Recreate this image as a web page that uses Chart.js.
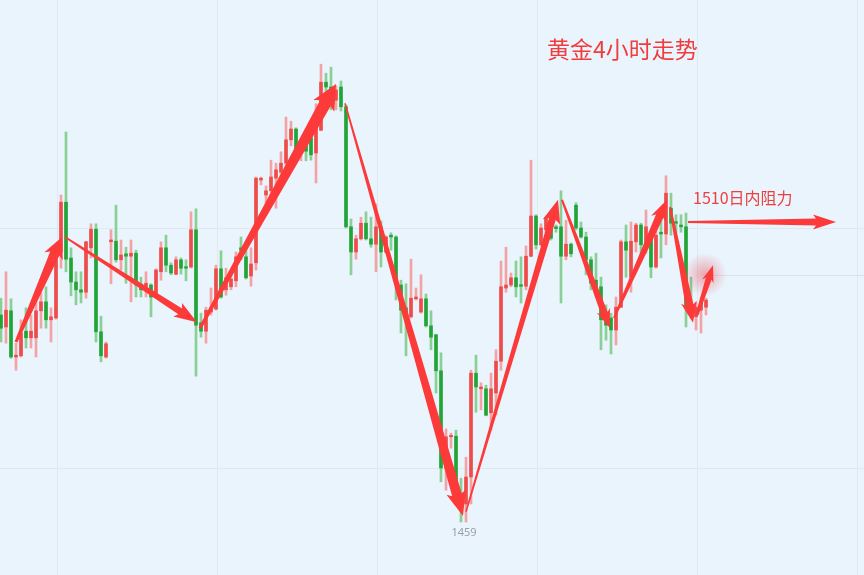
<!DOCTYPE html>
<html>
<head>
    <title>黄金4小时走势</title>
    <script src="https://cdn.jsdelivr.net/npm/chart.js"></script>
    <style>
        body { margin: 0; background: #eaf4fd; }
        #wrap { width: 864px; height: 575px; }
    </style>
</head>
<body>
    <div id="wrap"><canvas id="kChart" width="864" height="575"></canvas></div>

    <script>
    // 4h gold candles
    const opens = [1493.5,1491.5,1494.2,1486.5,1486.7,1490.8,1489.7,1489.7,1494.2,1495.7,
        1492.7,1493,1504,1512.3,1503,1499,1497.7,1497.3,1504.7,1507.8,
        1490.7,1486.5,1505.7,1505.8,1502.7,1503.7,1503.3,1503.8,1498.5,1498.2,
        1498.5,1496.8,1500.7,1504.7,1501.8,1500.3,1502.7,1501.5,1501.5,1507.7,
        1492.2,1490.8,1494,1494.5,1501.2,1497.7,1498.2,1499.2,1504.7,1503.2,
        1500,1502.2,1516,1513.5,1514.2,1516.3,1517.3,1518.8,1522.7,1524.5,
        1520.7,1522.7,1523,1520.5,1524.3,1532.3,1531.5,1529.3,1531.5,1528.2,
        1508.2,1504,1506.2,1508.8,1506.2,1505.3,1508.2,1504,1506.8,1506.5,
        1498.5,1494.7,1493.2,1496.2,1494,1496.2,1491.7,1490.2,1484.2,1468,
        1473.2,1473.3,1463.8,1462,1466.5,1483.8,1481.2,1481.2,1477.2,1480.5,
        1485.8,1498,1498.5,1499.7,1498.5,1498.3,1503.3,1510,1505.2,1507.7,
        1508.2,1508.2,1508.2,1503.3,1505.3,1511.8,1508,1506.5,1502.7,1499.3,
        1498.2,1493,1493,1491,1494.8,1505.7,1499.8,1505.7,1508.5,1504.8,
        1506.5,1501.5,1507.3,1507,1511.3,1509,1508.5,1508.2,1494.8,1493.2,
        1494.3,1494.8];
    const highs = [1496.3,1500.7,1496.2,1488.8,1492.7,1494.7,1493.5,1496.3,1497.2,1498.2,
        1494.7,1503,1513.5,1524,1504.7,1500.7,1500.7,1505.8,1508.7,1508.7,
        1493.3,1489,1507.7,1511.8,1506,1504.8,1506,1504.3,1499.8,1500.7,
        1498.7,1501.2,1505.7,1506.8,1502.2,1503.2,1503,1502.7,1510.7,1511.2,
        1493.8,1494.8,1498,1501.8,1504.2,1501.3,1501,1504,1506.5,1504.8,
        1504.7,1516.5,1516.5,1515,1519.3,1518.8,1520.7,1526.5,1525.8,1524.7,
        1522.3,1523.8,1524,1528.7,1535.3,1533.8,1534.8,1531.7,1532.5,1528.5,
        1509.5,1506.8,1509.8,1510.7,1509.8,1512,1509.2,1506.7,1507.2,1506.7,
        1499.3,1498.7,1502.8,1498,1500.2,1497,1494.2,1490.3,1487.2,1474.5,
        1473.8,1474.3,1466.3,1469.8,1484.3,1486.8,1482.2,1481.8,1483.8,1487.7,
        1502.5,1504.8,1500.5,1502.5,1503.2,1505,1519.3,1510.2,1508.7,1509.8,
        1509.7,1508.5,1514.2,1509.3,1505.5,1512.2,1509,1507.3,1503.2,1503.8,
        1499.8,1495.2,1493.8,1496.5,1506,1508.5,1509,1508.8,1508.8,1511,
        1507.2,1507.7,1509.8,1516.7,1513.8,1510.2,1510.2,1510.5,1499.8,1495.5,
        1496.5,1496.3];
    const lows = [1489,1488.8,1486.3,1484.3,1486.5,1488,1488,1486.5,1491.3,1491.3,
        1489,1492.8,1501.3,1500.7,1496.7,1495.2,1495.5,1496.3,1503,1489,
        1485.7,1486.3,1498.7,1502.3,1501,1498.8,1495.7,1496.5,1496.5,1496.5,
        1493.2,1496.5,1499.3,1500.7,1500.2,1500.2,1500.3,1499.2,1501.3,1483.3,
        1489.8,1488.8,1493.5,1494.3,1496.3,1496.8,1497.7,1498.2,1502.7,1499.5,
        1498.3,1501,1515.2,1512.2,1512.7,1511.3,1516,1518.2,1521.7,1520.5,
        1519.2,1519.2,1519.3,1515.5,1524.2,1530.5,1527.7,1527.7,1527.5,1508,
        1500.2,1502.8,1506,1506,1504.8,1500.7,1501.5,1503.8,1504.3,1496,
        1490.5,1486.7,1493,1496,1493.8,1491.5,1487.7,1480.5,1465.7,1464.3,
        1471.3,1461.8,1459,1459,1462,1477.3,1477.7,1476.7,1474.3,1476.8,
        1484.3,1497.3,1498.2,1496.5,1495.5,1497.7,1503.2,1504.5,1505,1507.3,
        1506,1507.3,1495.5,1502.7,1503.2,1507.7,1506.3,1500.2,1497.7,1496.5,
        1487.7,1489.3,1487,1488.5,1494.7,1499.8,1497.3,1504,1503.8,1503.8,
        1499.7,1501.3,1503,1505.2,1506.8,1507.2,1507.3,1491.5,1493,1491,
        1490.5,1493.5];
    const closes = [1491.3,1494.3,1486.5,1486.8,1490.5,1489.7,1490.8,1494.2,1495.7,1492.7,
        1493.2,1502.7,1512.3,1502.8,1499,1497.7,1497.3,1505.7,1507.8,1490.7,
        1486.7,1488.7,1506,1502.7,1503.5,1503.3,1503.8,1498.5,1497.7,1498.8,
        1496.5,1501,1504.7,1501.8,1500.5,1502.7,1501.3,1501.3,1507.7,1491.8,
        1490.8,1494.3,1494.7,1501.2,1496.5,1499.7,1499.5,1503.2,1504.3,1499.7,
        1502,1516.3,1516.3,1514.2,1516.5,1517.7,1518.8,1522.7,1524.5,1520.8,
        1521.8,1520.8,1520.2,1524.7,1532.3,1531.5,1530.5,1531,1528.2,1508.2,
        1504,1506.2,1508.8,1506.2,1505.3,1508.2,1504,1506.5,1506.5,1499.2,
        1494.3,1493.2,1496.3,1496.5,1496.2,1491.7,1489.8,1484.2,1468,1473.2,
        1473.3,1463.8,1462.3,1466.5,1483.8,1481.5,1481.5,1476.8,1481.2,1485.8,
        1498.2,1498.5,1499.7,1498.2,1498.3,1503.3,1510,1505.2,1508,1509.7,
        1506.3,1507.9,1503.3,1505.3,1503.7,1508,1506.5,1502.7,1498.8,1497.7,
        1492.7,1491.8,1491,1494.8,1505.7,1504.3,1505.8,1508.5,1505.2,1508.2,
        1501.5,1506.8,1507,1513.8,1508.8,1508.8,1508.2,1494.7,1494.3,1494.8,
        1495.7,1496];

    // grid positions (price levels / candle positions)
    const gridPrices = [1468, 1508];
    const gridBars = [11.2, 43.2, 75.2, 107.2, 139.2, 171.2];

    // hand drawn trend arrows: [candle, price] from -> to
    const arrowFrom = [[3, 1489], [12.8, 1506.5], [39.8, 1491.3], [68.8, 1528.8], [93, 1460.7],
        [112.2, 1512.7], [122.6, 1493], [133.8, 1511.5], [139.2, 1493.5], [137.4, 1509]];
    const arrowTo = [[12.2, 1506.5], [39.2, 1492.3], [67, 1532], [92.4, 1460], [111.4, 1512.7],
        [121.8, 1491.3], [133.2, 1512.7], [138.4, 1492.2], [142.4, 1501.8], [167, 1509]];

    const lowPoint = [92.6, 1459];
    const resistance = 1510;
    const lastLine = [142.4, 1500.2];

    const RED = '#ee4b4b', RED_WICK = '#f3a3a3';
    const GREEN = '#22a538', GREEN_WICK = '#88d096';
    const ARROW = '#fc3a3a';

    const isUp = opens.map((o, i) => closes[i] >= o);

    // arrow shape: tail width, shaft width at head, head width, head length
    const arrowStyle = [[3, 10, 20, 18], [1.5, 7, 16, 20], [3, 12, 24, 22], [1.5, 10, 20, 22], [1.5, 7, 18, 20],
        [2, 7, 14, 16], [2, 8, 16, 18], [2, 8, 16, 18], [3, 6, 12, 14], [2, 7, 15, 20]];

    function drawArrow(ctx, x0, y0, x1, y1, st) {
        const [w0, w1, hw, hl] = st;
        const len = Math.hypot(x1 - x0, y1 - y0);
        const dx = (x1 - x0) / len, dy = (y1 - y0) / len;
        const nx = -dy, ny = dx;
        const bx = x1 - dx * hl, by = y1 - dy * hl;
        ctx.beginPath();
        ctx.moveTo(x0 + nx * w0 / 2, y0 + ny * w0 / 2);
        ctx.lineTo(bx + nx * w1 / 2, by + ny * w1 / 2);
        ctx.lineTo(bx - dx * 3 + nx * hw / 2, by - dy * 3 + ny * hw / 2);
        ctx.lineTo(x1, y1);
        ctx.lineTo(bx - dx * 3 - nx * hw / 2, by - dy * 3 - ny * hw / 2);
        ctx.lineTo(bx - nx * w1 / 2, by - ny * w1 / 2);
        ctx.lineTo(x0 - nx * w0 / 2, y0 - ny * w0 / 2);
        ctx.closePath();
        ctx.fill();
    }

    const overlay = {
        id: 'overlay',
        beforeDraw(chart) {
            const ctx = chart.ctx;
            ctx.save();
            ctx.fillStyle = '#eaf4fd';
            ctx.fillRect(0, 0, chart.width, chart.height);
            ctx.restore();
        },
        afterDatasetsDraw(chart) {
            const ctx = chart.ctx, x = chart.scales.x, y = chart.scales.y;
            ctx.save();

            // faint last price line
            const ly = Math.round(y.getPixelForValue(lastLine[1])) + 0.5;
            ctx.strokeStyle = '#d6e2ef';
            ctx.lineWidth = 1;
            ctx.beginPath();
            ctx.moveTo(x.getPixelForValue(lastLine[0]), ly);
            ctx.lineTo(chart.width, ly);
            ctx.stroke();

            // glow on last price
            const gx = x.getPixelForValue(140.8), gy = y.getPixelForValue(lastLine[1]);
            const g = ctx.createRadialGradient(gx, gy, 0, gx, gy, 22);
            g.addColorStop(0, 'rgba(235,70,80,0.45)');
            g.addColorStop(1, 'rgba(235,70,80,0)');
            ctx.fillStyle = g;
            ctx.beginPath();
            ctx.arc(gx, gy, 22, 0, Math.PI * 2);
            ctx.fill();

            ctx.fillStyle = ARROW;
            arrowFrom.forEach((a, i) => {
                const b = arrowTo[i];
                drawArrow(ctx, x.getPixelForValue(a[0]), y.getPixelForValue(a[1]),
                    x.getPixelForValue(b[0]), y.getPixelForValue(b[1]), arrowStyle[i]);
            });

            // texts
            ctx.fillStyle = '#f03c3c';
            ctx.textBaseline = 'alphabetic';
            ctx.font = '23px "Noto Sans CJK SC", "Noto Sans", sans-serif';
            ctx.fillText('黄金4小时走势', 547, 58);
            ctx.font = '16px "Noto Sans CJK SC", "Noto Sans", sans-serif';
            ctx.fillStyle = '#ec4040';
            ctx.fillText(resistance + '日内阻力', 693, 204);

            ctx.fillStyle = '#9aa0a6';
            ctx.font = '11px "Noto Sans", sans-serif';
            ctx.textAlign = 'center';
            ctx.fillText(String(lowPoint[1]), x.getPixelForValue(lowPoint[0]), 536);
            ctx.restore();
        }
    };

    const idx = opens.map((_, i) => i);

    const kChart = new Chart(document.getElementById('kChart').getContext('2d'), {
        type: 'bar',
        data: {
            datasets: [{
                label: 'wick',
                data: idx.map(i => ({ x: i, y: [lows[i], highs[i]] })),
                backgroundColor: ctx => isUp[ctx.dataIndex] ? RED_WICK : GREEN_WICK,
                barThickness: 2,
                grouped: false,
                order: 2
            }, {
                label: 'body',
                data: idx.map(i => ({ x: i, y: [Math.min(opens[i], closes[i]), Math.max(opens[i], closes[i])] })),
                backgroundColor: ctx => isUp[ctx.dataIndex] ? RED : GREEN,
                barThickness: 3,
                minBarLength: 1.5,
                grouped: false,
                order: 1
            }]
        },
        options: {
            responsive: false,
            animation: false,
            layout: { padding: 0 },
            plugins: { legend: { display: false }, tooltip: { enabled: false } },
            scales: {
                x: {
                    type: 'linear',
                    min: -0.2,
                    max: 172.6,
                    offset: false,
                    afterBuildTicks: s => { s.ticks = gridBars.map(v => ({ value: v })); },
                    ticks: { display: false },
                    grid: { color: '#dde8f2', drawTicks: false, offset: false },
                    border: { display: false }
                },
                y: {
                    min: 1450.1667,
                    max: 1546,
                    afterBuildTicks: s => { s.ticks = gridPrices.map(v => ({ value: v })); },
                    ticks: { display: false },
                    grid: { color: '#dde8f2', drawTicks: false },
                    border: { display: false }
                }
            }
        },
        plugins: [overlay]
    });
    </script>
</body>
</html>
